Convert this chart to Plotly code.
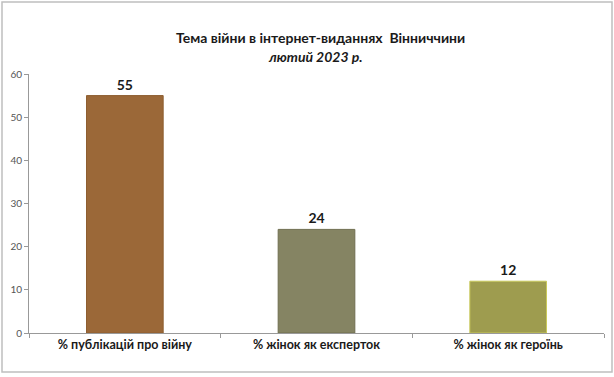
import plotly.graph_objects as go

categories = ["% публікацій про війну", "% жінок як експерток", "% жінок як героїнь"]
values = [55, 24, 12]
bar_colors = ["#9B6838", "#858463", "#9E9C4F"]
bar_lines = ["#8E5E30", "#6F6E50", "#C9C95A"]
title_line1 = "Тема війни в інтернет-виданнях  Вінниччини"
title_line2 = "лютий 2023 р."
y_ticks = [0, 10, 20, 30, 40, 50, 60]

W, H = 614, 377
L, R, T, B = 29, 10, 74, 44
pw, ph = W - L - R, H - T - B

def px_x(p):
    return (p - L) / pw

def px_y(p):
    return (H - B - p) / ph

FONT = "Lato, Carlito, 'Open Sans', sans-serif"

fig = go.Figure(go.Bar(
    x=categories, y=values,
    marker=dict(color=bar_colors, line=dict(color=bar_lines, width=1)),
    width=0.40,
    text=[str(v) for v in values], textposition="outside",
    textfont=dict(family=FONT, size=14, color="#1a1a1a", weight="bold"),
    cliponaxis=False,
))

fig.update_layout(
    width=W, height=H,
    margin=dict(l=L, r=R, t=T, b=B),
    paper_bgcolor="white", plot_bgcolor="white",
    showlegend=False,
    font=dict(family=FONT),
    xaxis=dict(
        type="category", tickson="boundaries", ticks="outside", ticklen=4,
        tickcolor="#999999", showline=True, linecolor="#999999", linewidth=1,
        showgrid=False, tickfont=dict(family=FONT, size=12.5, color="#1a1a1a", weight="bold"),
    ),
    yaxis=dict(
        range=[0, 60], tickvals=y_ticks, ticks="outside", ticklen=4,
        tickcolor="#999999", showline=True, linecolor="#999999", linewidth=1,
        showgrid=False, zeroline=False,
        tickfont=dict(family=FONT, size=10, color="#555555"),
    ),
    annotations=[
        dict(text=f"<b>{title_line1}</b>", xref="paper", yref="paper",
             x=px_x(320), y=px_y(37), showarrow=False, xanchor="center", yanchor="middle",
             font=dict(family=FONT, size=14, color="#1a1a1a")),
        dict(text=f"<b><i>{title_line2}</i></b>", xref="paper", yref="paper",
             x=px_x(315), y=px_y(57), showarrow=False, xanchor="center", yanchor="middle",
             font=dict(family=FONT, size=14, color="#1a1a1a")),
    ],
    shapes=[
        dict(type="rect", xref="paper", yref="paper",
             x0=px_x(2), x1=px_x(612), y0=px_y(372), y1=px_y(2),
             line=dict(color="#BFBFBF", width=1.5), layer="below"),
    ],
)

fig.write_html("out.html", config={"displayModeBar": False},
               post_script="document.body.style.margin='0';")
